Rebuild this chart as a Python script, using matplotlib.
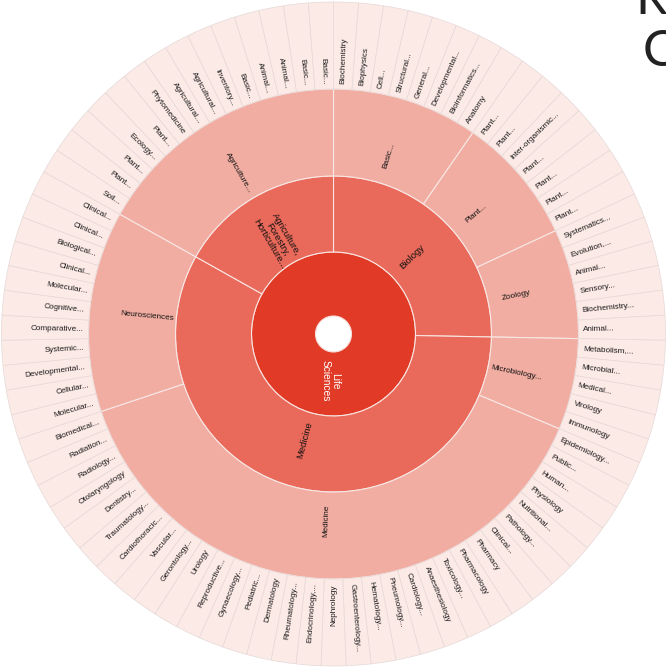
import matplotlib
matplotlib.use("Agg")
import matplotlib.pyplot as plt
from matplotlib.patches import Wedge
import numpy as np

plt.rcParams["font.family"] = ["Liberation Sans", "DejaVu Sans"]

# hierarchy: root -> fields -> subfields -> leaves (every leaf has weight 1)
root_label = "Life\nSciences"
field_labels = ["Biology", "Medicine", "Agriculture,\nForestry,\nHorticulture..."]
subfield_labels = ["Basic...", "Plant...", "Zoology", "Microbiology...",
                   "Medicine", "Neurosciences", "Agriculture..."]
subfield_parent = [0, 0, 0, 1, 1, 1, 2]
subfield_sizes = [8, 7, 6, 5, 32, 11, 14]
leaf_labels = [
    "Biochemistry", "Biophysics", "Cell...", "Structural...", "General...",
    "Developmental...", "Bioinformatics...", "Anatomy",
    "Plant...", "Plant...", "Inter-organismic...", "Plant...", "Plant...",
    "Plant...", "Plant...",
    "Systematics...", "Evolution,...", "Animal...", "Sensory...",
    "Biochemistry...", "Animal...",
    "Metabolism,...", "Microbial...", "Medical...", "Virology", "Immunology",
    "Epidemiology...", "Public...", "Human...", "Physiology", "Nutritional...",
    "Pathology...", "Clinical...", "Pharmacy", "Pharmacology", "Toxicology...",
    "Anaesthesiology", "Cardiology...", "Pneumology...", "Hematology...",
    "Gastroenterology...", "Nephrology", "Endocrinology,...", "Rheumatology...",
    "Dermatology", "Pediatric...", "Gynaecology...", "Reproductive...",
    "Urology", "Gerontology...", "Vascular...", "Cardiothoracic...",
    "Traumatology...", "Dentistry...", "Otolaryngology", "Radiology...",
    "Radiation...", "Biomedical...",
    "Molecular...", "Cellular...", "Developmental...", "Systemic...",
    "Comparative...", "Cognitive...", "Molecular...", "Clinical...",
    "Biological...", "Clinical...", "Clinical...",
    "Soil...", "Plant...", "Plant...", "Ecology...", "Plant...",
    "Phytomedicine", "Agricultural...", "Agricultural...", "Inventory...",
    "Basic...", "Animal...", "Animal...", "Basic...", "Basic...",
]
leaf_values = [1] * len(leaf_labels)

# ring radii in pixels
R_HOLE, R1, R2, R3, R4 = 18, 82, 158, 245, 332
C_ROOT, C_FIELD, C_SUB, C_LEAF = "#E13A26", "#E9695A", "#F1ADA2", "#FCEAE6"

fig = plt.figure(figsize=(6.66, 6.67), dpi=100)
ax = fig.add_axes([0, 0, 1, 1])
ax.set_xlim(-333.5, 332.5)
ax.set_ylim(-333, 334)
ax.axis("off")

total = float(sum(leaf_values))
deg_per = 360.0 / total


def span(start, n):
    # clockwise from 12 o'clock, returns (theta1, theta2) in matplotlib degrees
    t2 = 90 - start * deg_per
    t1 = 90 - (start + n) * deg_per
    return t1, t2


def radial_text(theta, r, s, leaf=False, **kw):
    x_cw = 90 - theta
    right = x_cw < 180
    rot = theta if right else theta + 180
    if leaf:
        ha = "left" if right else "right"
    else:
        ha = "center"
    ax.text(r * np.cos(np.radians(theta)), r * np.sin(np.radians(theta)), s,
            rotation=rot, rotation_mode="anchor", ha=ha, va="center",
            multialignment="center", **kw)


# root ring
ax.add_patch(Wedge((0, 0), R1, -270, 90, width=R1 - R_HOLE, facecolor=C_ROOT,
                   edgecolor="#F6DCD6", lw=0.8))
ax.text(-3, -47, root_label, rotation=-90, ha="center", va="center",
        color="white", fontsize=7.4, multialignment="center",
        linespacing=1.0)

# fields
field_sizes = [0] * len(field_labels)
for p, n in zip(subfield_parent, subfield_sizes):
    field_sizes[p] += n
start = 0
for lab, n in zip(field_labels, field_sizes):
    t1, t2 = span(start, n)
    ax.add_patch(Wedge((0, 0), R2, t1, t2, width=R2 - R1, facecolor=C_FIELD,
                       edgecolor="#F8E4E0", lw=0.8))
    radial_text((t1 + t2) / 2, 110, lab, fontsize=6.8, color="#111111",
                linespacing=1.0)
    start += n

# subfields
start = 0
for lab, n in zip(subfield_labels, subfield_sizes):
    t1, t2 = span(start, n)
    ax.add_patch(Wedge((0, 0), R3, t1, t2, width=R3 - R2, facecolor=C_SUB,
                       edgecolor="#F8E6E3", lw=0.8))
    radial_text((t1 + t2) / 2, 187, lab, fontsize=5.9, color="#111111")
    start += n

# leaves
start = 0
for lab, v in zip(leaf_labels, leaf_values):
    t1, t2 = span(start, v)
    ax.add_patch(Wedge((0, 0), R4, t1, t2, width=R4 - R3, facecolor=C_LEAF,
                       edgecolor="#E5D9D8", lw=0.5))
    radial_text((t1 + t2) / 2, R3 + 5, lab, leaf=True, fontsize=5.9,
                color="#1a1a1a")
    start += v

# partially clipped heading at the top right corner
ax.text(302, 320, "R", fontsize=36, color="#222222",
        ha="left", va="baseline", family=["Lato", "DejaVu Sans"])
ax.text(309, 268, "C", fontsize=36, color="#222222",
        ha="left", va="baseline", family=["Lato", "DejaVu Sans"])

fig.savefig("out.png", dpi=100, facecolor="white")
